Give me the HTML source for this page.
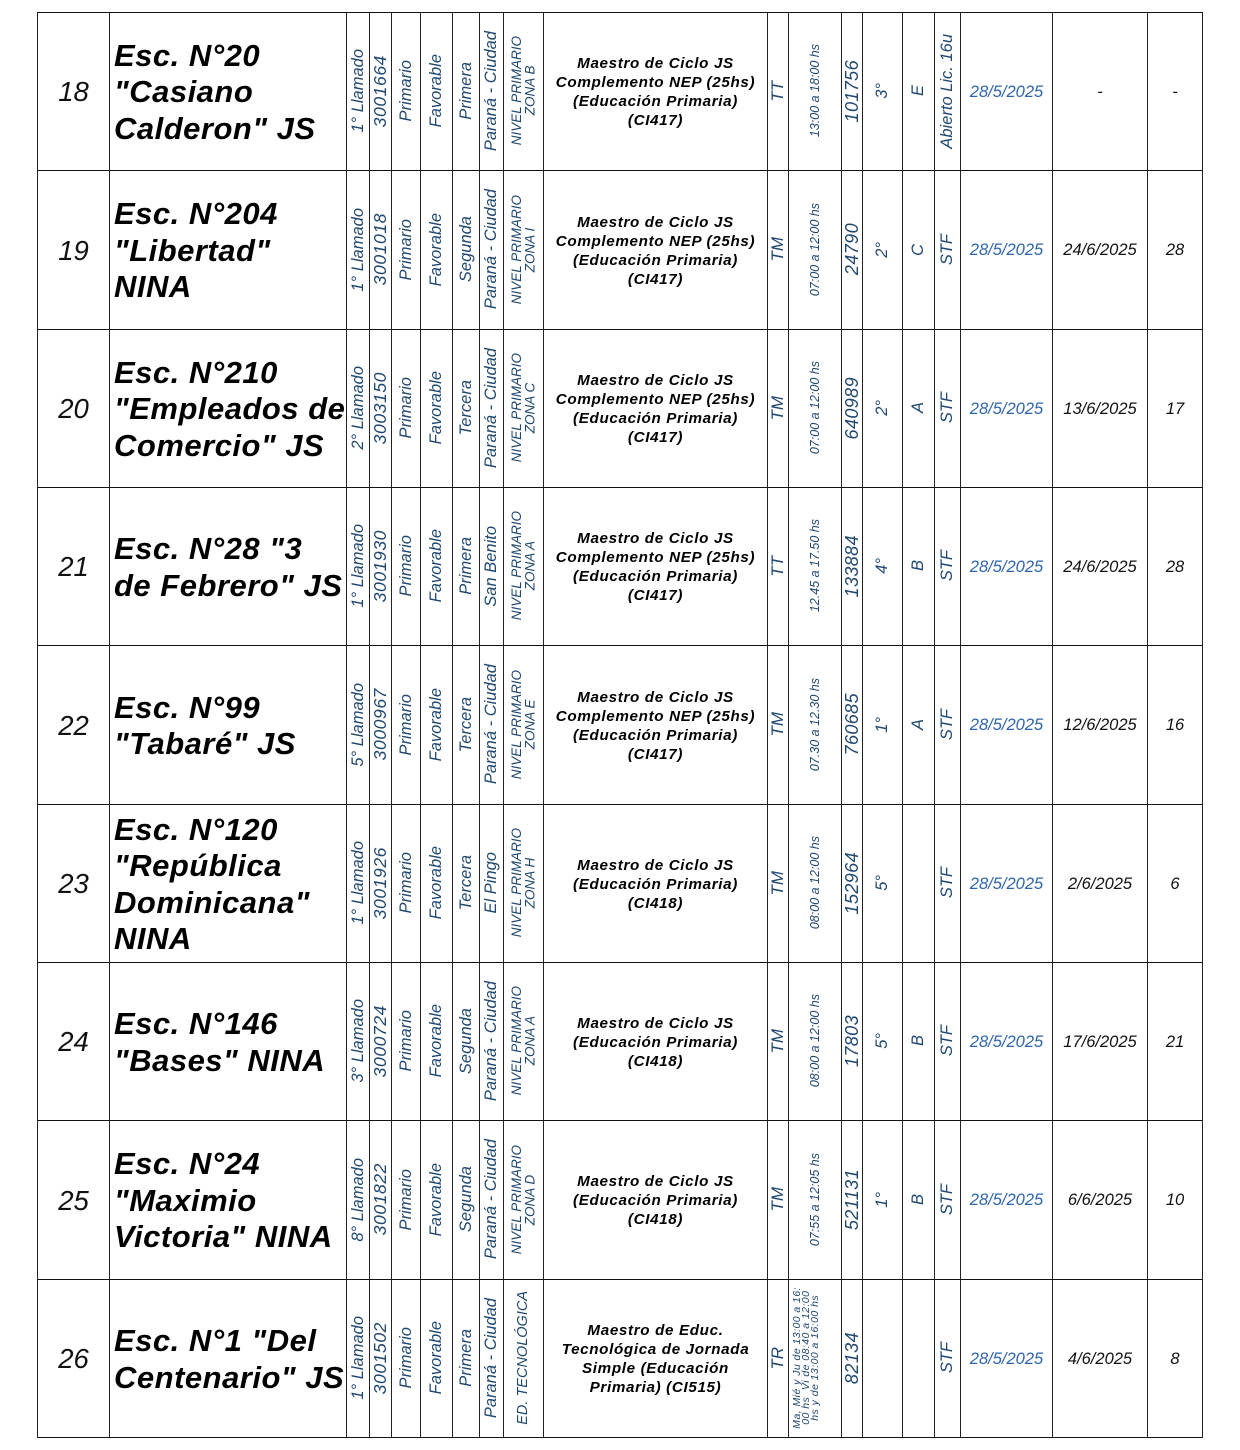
<!DOCTYPE html>
<html>
<head>
<meta charset="utf-8">
<style>
html,body{margin:0;padding:0;}
body{width:1240px;height:1450px;background:#fff;position:relative;overflow:hidden;font-family:"Liberation Sans",Arial,sans-serif;color:#111;}
.r{position:absolute;left:0;width:1240px;}
.c{position:absolute;top:0;height:100%;display:flex;align-items:center;justify-content:center;overflow:hidden;}
.v>span{display:block;writing-mode:vertical-rl;transform:rotate(180deg);white-space:nowrap;font-style:italic;color:#1f4770;text-align:center;}
.hl{position:absolute;left:37px;width:1166px;height:1px;background:#111;}
.vl{position:absolute;top:12px;height:1426px;width:1px;background:#222;}
.c0{left:38px;width:71px;font-style:italic;font-size:27.5px;color:#111;padding-top:2px;box-sizing:border-box;}
.c1{left:110px;width:236px;justify-content:flex-start;padding-top:3px;box-sizing:border-box;}
.c1 span{padding-left:4px;font-weight:bold;font-style:italic;font-size:31px;line-height:36.5px;letter-spacing:0.5px;white-space:nowrap;color:#000;}
.c2{left:347px;width:22px;}
.c3{left:370px;width:21px;}
.c4{left:392px;width:28px;}
.c5{left:421px;width:31px;}
.c6{left:453px;width:26px;}
.c7{left:480px;width:23px;}
.c8{left:504px;width:39px;}
.c9{left:544px;width:223px;padding-top:2px;box-sizing:border-box;}
.c9 span{font-weight:bold;font-style:italic;font-size:15.2px;line-height:19px;letter-spacing:0.65px;text-align:center;color:#000;}
.c10{left:768px;width:20px;}
.c11{left:789px;width:52px;}
.c12{left:842px;width:20px;}
.c13{left:863px;width:39px;}
.c14{left:903px;width:31px;}
.c15{left:935px;width:25px;}
.c16{left:961px;width:91px;font-style:italic;font-size:16.5px;color:#2e65ad;padding-top:2px;box-sizing:border-box;}
.c17{left:1053px;width:94px;font-style:italic;font-size:16.5px;color:#111;padding-top:2px;box-sizing:border-box;}
.c18{left:1148px;width:54px;font-style:italic;font-size:16.5px;color:#111;padding-top:2px;box-sizing:border-box;}
.c2 span{font-size:16.5px;}
.c3 span{font-size:17.5px;letter-spacing:0.6px;}
.c4 span,.c5 span,.c6 span,.c7 span{font-size:16.5px;}
.c8 span{font-size:13.5px;line-height:13.5px;}
.c10 span{font-size:17px;}
.c11 span{font-size:12.5px;}
.c12 span{font-size:18px;letter-spacing:0.4px;}
.c13 span,.c14 span,.c15 span{font-size:16.5px;}
.tm3{justify-content:flex-start;}
.tm3 span{font-size:10.5px !important;line-height:9px;letter-spacing:0.45px;padding-right:4px;}
</style>
</head>
<body>

<!-- ROW 18 -->
<div class="r" style="top:12px;height:158px;">
<div class="c c0">18</div>
<div class="c c1"><span>Esc. N°20<br>"Casiano<br>Calderon" JS</span></div>
<div class="c v c2"><span>1° Llamado</span></div>
<div class="c v c3"><span>3001664</span></div>
<div class="c v c4"><span>Primario</span></div>
<div class="c v c5"><span>Favorable</span></div>
<div class="c v c6"><span>Primera</span></div>
<div class="c v c7"><span>Paraná - Ciudad</span></div>
<div class="c v c8"><span>NIVEL PRIMARIO<br>ZONA B</span></div>
<div class="c c9"><span>Maestro de Ciclo JS<br>Complemento NEP (25hs)<br>(Educación Primaria)<br>(CI417)</span></div>
<div class="c v c10"><span>TT</span></div>
<div class="c v c11"><span>13:00 a 18:00 hs</span></div>
<div class="c v c12"><span>101756</span></div>
<div class="c v c13"><span>3°</span></div>
<div class="c v c14"><span>E</span></div>
<div class="c v c15"><span>Abierto Lic. 16u</span></div>
<div class="c c16">28/5/2025</div>
<div class="c c17">-</div>
<div class="c c18">-</div>
</div>

<!-- ROW 19 -->
<div class="r" style="top:170px;height:159px;">
<div class="c c0">19</div>
<div class="c c1"><span>Esc. N°204<br>"Libertad"<br>NINA</span></div>
<div class="c v c2"><span>1° Llamado</span></div>
<div class="c v c3"><span>3001018</span></div>
<div class="c v c4"><span>Primario</span></div>
<div class="c v c5"><span>Favorable</span></div>
<div class="c v c6"><span>Segunda</span></div>
<div class="c v c7"><span>Paraná - Ciudad</span></div>
<div class="c v c8"><span>NIVEL PRIMARIO<br>ZONA I</span></div>
<div class="c c9"><span>Maestro de Ciclo JS<br>Complemento NEP (25hs)<br>(Educación Primaria)<br>(CI417)</span></div>
<div class="c v c10"><span>TM</span></div>
<div class="c v c11"><span>07:00 a 12:00 hs</span></div>
<div class="c v c12"><span>24790</span></div>
<div class="c v c13"><span>2°</span></div>
<div class="c v c14"><span>C</span></div>
<div class="c v c15"><span>STF</span></div>
<div class="c c16">28/5/2025</div>
<div class="c c17">24/6/2025</div>
<div class="c c18">28</div>
</div>

<!-- ROW 20 -->
<div class="r" style="top:329px;height:158px;">
<div class="c c0">20</div>
<div class="c c1"><span>Esc. N°210<br>"Empleados de<br>Comercio" JS</span></div>
<div class="c v c2"><span>2° Llamado</span></div>
<div class="c v c3"><span>3003150</span></div>
<div class="c v c4"><span>Primario</span></div>
<div class="c v c5"><span>Favorable</span></div>
<div class="c v c6"><span>Tercera</span></div>
<div class="c v c7"><span>Paraná - Ciudad</span></div>
<div class="c v c8"><span>NIVEL PRIMARIO<br>ZONA C</span></div>
<div class="c c9"><span>Maestro de Ciclo JS<br>Complemento NEP (25hs)<br>(Educación Primaria)<br>(CI417)</span></div>
<div class="c v c10"><span>TM</span></div>
<div class="c v c11"><span>07:00 a 12:00 hs</span></div>
<div class="c v c12"><span>640989</span></div>
<div class="c v c13"><span>2°</span></div>
<div class="c v c14"><span>A</span></div>
<div class="c v c15"><span>STF</span></div>
<div class="c c16">28/5/2025</div>
<div class="c c17">13/6/2025</div>
<div class="c c18">17</div>
</div>

<!-- ROW 21 -->
<div class="r" style="top:487px;height:158px;">
<div class="c c0">21</div>
<div class="c c1"><span>Esc. N°28 "3<br>de Febrero" JS</span></div>
<div class="c v c2"><span>1° Llamado</span></div>
<div class="c v c3"><span>3001930</span></div>
<div class="c v c4"><span>Primario</span></div>
<div class="c v c5"><span>Favorable</span></div>
<div class="c v c6"><span>Primera</span></div>
<div class="c v c7"><span>San Benito</span></div>
<div class="c v c8"><span>NIVEL PRIMARIO<br>ZONA A</span></div>
<div class="c c9"><span>Maestro de Ciclo JS<br>Complemento NEP (25hs)<br>(Educación Primaria)<br>(CI417)</span></div>
<div class="c v c10"><span>TT</span></div>
<div class="c v c11"><span>12.45 a 17.50 hs</span></div>
<div class="c v c12"><span>133884</span></div>
<div class="c v c13"><span>4°</span></div>
<div class="c v c14"><span>B</span></div>
<div class="c v c15"><span>STF</span></div>
<div class="c c16">28/5/2025</div>
<div class="c c17">24/6/2025</div>
<div class="c c18">28</div>
</div>

<!-- ROW 22 -->
<div class="r" style="top:645px;height:159px;">
<div class="c c0">22</div>
<div class="c c1"><span>Esc. N°99<br>"Tabaré" JS</span></div>
<div class="c v c2"><span>5° Llamado</span></div>
<div class="c v c3"><span>3000967</span></div>
<div class="c v c4"><span>Primario</span></div>
<div class="c v c5"><span>Favorable</span></div>
<div class="c v c6"><span>Tercera</span></div>
<div class="c v c7"><span>Paraná - Ciudad</span></div>
<div class="c v c8"><span>NIVEL PRIMARIO<br>ZONA E</span></div>
<div class="c c9"><span>Maestro de Ciclo JS<br>Complemento NEP (25hs)<br>(Educación Primaria)<br>(CI417)</span></div>
<div class="c v c10"><span>TM</span></div>
<div class="c v c11"><span>07.30 a 12.30 hs</span></div>
<div class="c v c12"><span>760685</span></div>
<div class="c v c13"><span>1°</span></div>
<div class="c v c14"><span>A</span></div>
<div class="c v c15"><span>STF</span></div>
<div class="c c16">28/5/2025</div>
<div class="c c17">12/6/2025</div>
<div class="c c18">16</div>
</div>

<!-- ROW 23 -->
<div class="r" style="top:804px;height:158px;">
<div class="c c0">23</div>
<div class="c c1"><span>Esc. N°120<br>"República<br>Dominicana"<br>NINA</span></div>
<div class="c v c2"><span>1° Llamado</span></div>
<div class="c v c3"><span>3001926</span></div>
<div class="c v c4"><span>Primario</span></div>
<div class="c v c5"><span>Favorable</span></div>
<div class="c v c6"><span>Tercera</span></div>
<div class="c v c7"><span>El Pingo</span></div>
<div class="c v c8"><span>NIVEL PRIMARIO<br>ZONA H</span></div>
<div class="c c9"><span>Maestro de Ciclo JS<br>(Educación Primaria)<br>(CI418)</span></div>
<div class="c v c10"><span>TM</span></div>
<div class="c v c11"><span>08:00 a 12:00 hs</span></div>
<div class="c v c12"><span>152964</span></div>
<div class="c v c13"><span>5°</span></div>
<div class="c v c14"><span></span></div>
<div class="c v c15"><span>STF</span></div>
<div class="c c16">28/5/2025</div>
<div class="c c17">2/6/2025</div>
<div class="c c18">6</div>
</div>

<!-- ROW 24 -->
<div class="r" style="top:962px;height:158px;">
<div class="c c0">24</div>
<div class="c c1"><span>Esc. N°146<br>"Bases" NINA</span></div>
<div class="c v c2"><span>3° Llamado</span></div>
<div class="c v c3"><span>3000724</span></div>
<div class="c v c4"><span>Primario</span></div>
<div class="c v c5"><span>Favorable</span></div>
<div class="c v c6"><span>Segunda</span></div>
<div class="c v c7"><span>Paraná - Ciudad</span></div>
<div class="c v c8"><span>NIVEL PRIMARIO<br>ZONA A</span></div>
<div class="c c9"><span>Maestro de Ciclo JS<br>(Educación Primaria)<br>(CI418)</span></div>
<div class="c v c10"><span>TM</span></div>
<div class="c v c11"><span>08:00 a 12:00 hs</span></div>
<div class="c v c12"><span>17803</span></div>
<div class="c v c13"><span>5°</span></div>
<div class="c v c14"><span>B</span></div>
<div class="c v c15"><span>STF</span></div>
<div class="c c16">28/5/2025</div>
<div class="c c17">17/6/2025</div>
<div class="c c18">21</div>
</div>

<!-- ROW 25 -->
<div class="r" style="top:1120px;height:159px;">
<div class="c c0">25</div>
<div class="c c1"><span>Esc. N°24<br>"Maximio<br>Victoria" NINA</span></div>
<div class="c v c2"><span>8° Llamado</span></div>
<div class="c v c3"><span>3001822</span></div>
<div class="c v c4"><span>Primario</span></div>
<div class="c v c5"><span>Favorable</span></div>
<div class="c v c6"><span>Segunda</span></div>
<div class="c v c7"><span>Paraná - Ciudad</span></div>
<div class="c v c8"><span>NIVEL PRIMARIO<br>ZONA D</span></div>
<div class="c c9"><span>Maestro de Ciclo JS<br>(Educación Primaria)<br>(CI418)</span></div>
<div class="c v c10"><span>TM</span></div>
<div class="c v c11"><span>07:55 a 12:05 hs</span></div>
<div class="c v c12"><span>521131</span></div>
<div class="c v c13"><span>1°</span></div>
<div class="c v c14"><span>B</span></div>
<div class="c v c15"><span>STF</span></div>
<div class="c c16">28/5/2025</div>
<div class="c c17">6/6/2025</div>
<div class="c c18">10</div>
</div>

<!-- ROW 26 -->
<div class="r" style="top:1279px;height:158px;">
<div class="c c0">26</div>
<div class="c c1"><span>Esc. N°1 "Del<br>Centenario" JS</span></div>
<div class="c v c2"><span>1° Llamado</span></div>
<div class="c v c3"><span>3001502</span></div>
<div class="c v c4"><span>Primario</span></div>
<div class="c v c5"><span>Favorable</span></div>
<div class="c v c6"><span>Primera</span></div>
<div class="c v c7"><span>Paraná - Ciudad</span></div>
<div class="c v c8"><span style="font-size:14.5px;">ED. TECNOLÓGICA</span></div>
<div class="c c9"><span>Maestro de Educ.<br>Tecnológica de Jornada<br>Simple (Educación<br>Primaria) (CI515)</span></div>
<div class="c v c10"><span>TR</span></div>
<div class="c v c11 tm3"><span>Ma, Mié y Ju de 13:00 a 16:<br>00 hs&nbsp; Vi de 08:40 a 12:00<br>hs y de 13:00 a 16:00 hs</span></div>
<div class="c v c12"><span>82134</span></div>
<div class="c v c13"><span></span></div>
<div class="c v c14"><span></span></div>
<div class="c v c15"><span>STF</span></div>
<div class="c c16">28/5/2025</div>
<div class="c c17">4/6/2025</div>
<div class="c c18">8</div>
</div>

<!-- horizontal grid lines -->
<div class="hl" style="top:12px;"></div>
<div class="hl" style="top:170px;"></div>
<div class="hl" style="top:329px;"></div>
<div class="hl" style="top:487px;"></div>
<div class="hl" style="top:645px;"></div>
<div class="hl" style="top:804px;"></div>
<div class="hl" style="top:962px;"></div>
<div class="hl" style="top:1120px;"></div>
<div class="hl" style="top:1279px;"></div>
<div class="hl" style="top:1437px;"></div>

<!-- vertical grid lines -->
<div class="vl" style="left:37px;"></div>
<div class="vl" style="left:109px;"></div>
<div class="vl" style="left:346px;"></div>
<div class="vl" style="left:369px;"></div>
<div class="vl" style="left:391px;"></div>
<div class="vl" style="left:420px;"></div>
<div class="vl" style="left:452px;"></div>
<div class="vl" style="left:479px;"></div>
<div class="vl" style="left:503px;"></div>
<div class="vl" style="left:543px;"></div>
<div class="vl" style="left:767px;"></div>
<div class="vl" style="left:788px;"></div>
<div class="vl" style="left:841px;"></div>
<div class="vl" style="left:862px;"></div>
<div class="vl" style="left:902px;"></div>
<div class="vl" style="left:934px;"></div>
<div class="vl" style="left:960px;"></div>
<div class="vl" style="left:1052px;"></div>
<div class="vl" style="left:1147px;"></div>
<div class="vl" style="left:1202px;"></div>

</body>
</html>
